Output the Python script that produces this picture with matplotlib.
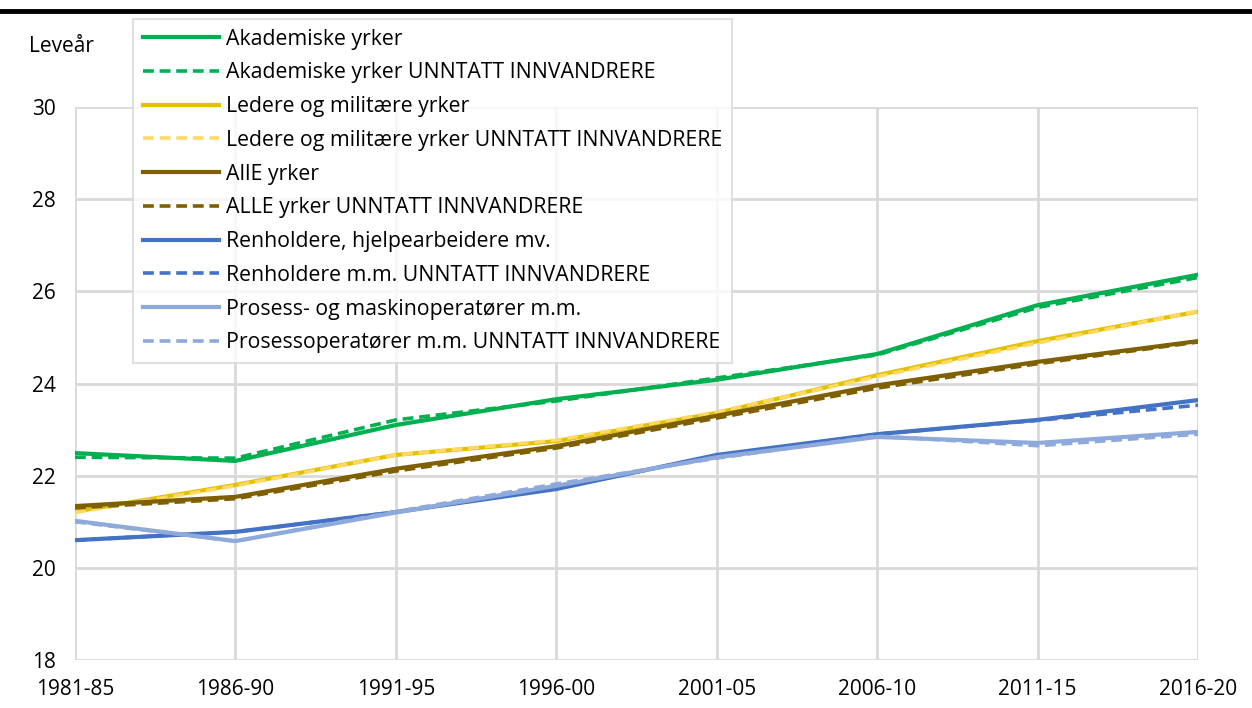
import matplotlib
matplotlib.use("Agg")
import matplotlib.pyplot as plt
from matplotlib.lines import Line2D

plt.rcParams['font.family'] = ['Open Sans', 'DejaVu Sans']

periods = ["1981-85", "1986-90", "1991-95", "1996-00", "2001-05", "2006-10", "2011-15", "2016-20"]

akad = [22.49, 22.32, 23.10, 23.66, 24.08, 24.64, 25.70, 26.36]
akad_u = [22.40, 22.38, 23.21, 23.62, 24.12, 24.62, 25.65, 26.30]
ledere = [21.22, 21.80, 22.45, 22.75, 23.36, 24.18, 24.92, 25.56]
ledere_u = [21.20, 21.78, 22.45, 22.77, 23.38, 24.15, 24.88, 25.57]
alle = [21.34, 21.54, 22.15, 22.64, 23.30, 23.96, 24.47, 24.92]
alle_u = [21.30, 21.50, 22.10, 22.60, 23.25, 23.90, 24.43, 24.90]
renh = [20.60, 20.78, 21.21, 21.71, 22.45, 22.90, 23.21, 23.64]
renh_u = [20.60, 20.78, 21.21, 21.73, 22.43, 22.90, 23.20, 23.53]
prosess = [21.02, 20.58, 21.20, 21.78, 22.40, 22.84, 22.71, 22.95]
prosess_u = [21.00, 20.58, 21.22, 21.82, 22.38, 22.86, 22.65, 22.90]

series = [
    ("Akademiske yrker", akad, "#00B050", "-"),
    ("Akademiske yrker UNNTATT INNVANDRERE", akad_u, "#00B050", "--"),
    ("Ledere og militære yrker", ledere, "#E2C200", "-"),
    ("Ledere og militære yrker UNNTATT INNVANDRERE", ledere_u, "#FFD966", "--"),
    ("AllE yrker", alle, "#7F6000", "-"),
    ("ALLE yrker UNNTATT INNVANDRERE", alle_u, "#7F6000", "--"),
    ("Renholdere, hjelpearbeidere mv.", renh, "#4472C4", "-"),
    ("Renholdere m.m. UNNTATT INNVANDRERE", renh_u, "#4472C4", "--"),
    ("Prosess- og maskinoperatører m.m.", prosess, "#8EA9DB", "-"),
    ("Prosessoperatører m.m. UNNTATT INNVANDRERE", prosess_u, "#8EA9DB", "--"),
]

fig = plt.figure(figsize=(12.52, 7.08), dpi=100)
ax = fig.add_axes([75/1252, 48/708, 1123/1252, 553/708])

x = list(range(len(periods)))
for label, vals, color, ls in series:
    if ls == "--":
        ax.plot(x, vals, color=color, lw=2.6, ls=(0, (3, 1.6)), label=label)
    else:
        ax.plot(x, vals, color=color, lw=3, label=label)

ax.set_xlim(0, len(periods) - 1)
ax.set_ylim(18, 30)
ax.set_yticks(range(18, 31, 2))
ax.set_xticks(x)
ax.set_xticklabels(periods)
ax.grid(True, color="#D9D9D9", lw=2)
ax.set_axisbelow(True)
for s in ax.spines.values():
    s.set_visible(False)
ax.tick_params(length=0, labelsize=15, colors="black")
ax.tick_params(axis='x', pad=14)
ax.tick_params(axis='y', pad=14)

fig.text(29/1252, 1 - 47/708, "Leveår", fontsize=15, va="center", ha="left")

leg = ax.legend(loc="upper left", bbox_to_anchor=(133/1252, 1 - 19/708),
                bbox_transform=fig.transFigure, borderaxespad=0, fontsize=15.3,
                frameon=True, fancybox=False, edgecolor="#D9D9D9",
                handlelength=3.6, handletextpad=0.35, labelspacing=0.6,
                borderpad=0.45)
leg.get_frame().set_linewidth(1.5)
leg.set_zorder(10)

fig.add_artist(Line2D([0, 1], [1 - 11/708, 1 - 11/708], color="black", lw=3.5,
                      transform=fig.transFigure))

fig.savefig("out.png", dpi=100)
